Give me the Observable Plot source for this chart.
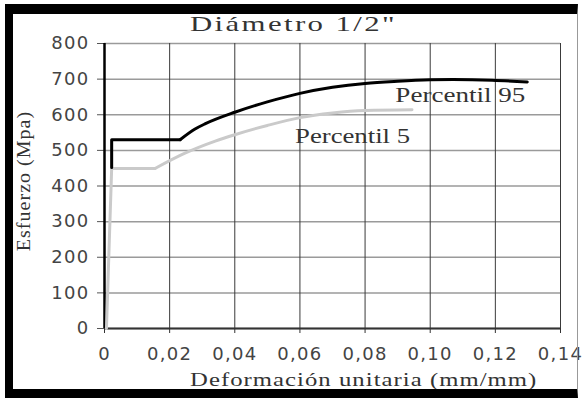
<!DOCTYPE html>
<html>
<head>
<meta charset="utf-8">
<script src="https://cdn.jsdelivr.net/npm/d3@7"></script>
<script src="https://cdn.jsdelivr.net/npm/@observablehq/plot@0.6"></script>
<style>
  body { margin: 0; background: #fff; }
  #wrap { position: relative; width: 582px; height: 398px; overflow: hidden; background: #fff; }
  #chart { position: absolute; left: 0; top: 0; }
  .lbl { position: absolute; font-family: "Liberation Serif", serif; color: #333; white-space: nowrap; }
  #title { left: 190px; top: 11px; font-size: 22px; letter-spacing: 1.7px; transform: scaleX(1.4); transform-origin: 0 0; }
  #xlabel { left: 190px; top: 369px; font-size: 19px; letter-spacing: 0.8px; transform: scaleX(1.3); transform-origin: 0 0; }
  #ylabel { left: 24px; top: 181px; font-size: 19px; letter-spacing: 1px; transform: translate(-50%, -50%) rotate(-90deg) scaleX(1.05); }
  #frame { position: absolute; left: 5px; top: 4px; width: 573px; height: 394px; box-sizing: border-box;
           border-left: 8px solid #000; border-top: 10px solid #000; border-bottom: 9px solid #000; border-right: 1px solid #999; pointer-events: none; }
  #chart g[aria-label="y-axis tick label"], #chart g[aria-label="x-axis tick label"] { letter-spacing: 1.3px; }
</style>
</head>
<body>
<div id="wrap">
  <div id="chart"></div>
  <div class="lbl" id="title">Diámetro 1/2"</div>
  <div class="lbl" id="xlabel">Deformación unitaria (mm/mm)</div>
  <div class="lbl" id="ylabel">Esfuerzo (Mpa)</div>
  <div id="frame"></div>
</div>
<script>
// Percentil 95 (black)
const strainP95 = [0.0022, 0.0022, 0.0232, 0.0278, 0.031, 0.040, 0.050, 0.060, 0.070, 0.080, 0.090, 0.100, 0.107, 0.119, 0.1298];
const stressP95 = [452, 530, 530, 560, 575, 607, 636, 660, 677, 688, 694, 698, 699, 697, 692];
const plateauEndP95 = 2; // index where the hardening curve begins

// Percentil 5 (light gray)
const strainP5 = [0.0006, 0.0022, 0.0155, 0.0247, 0.034, 0.040, 0.050, 0.060, 0.070, 0.080, 0.0944];
const stressP5 = [0, 449, 449, 492, 526, 544, 570, 592, 605, 612, 614];
const plateauEndP5 = 2;

const xTicks = [0, 0.02, 0.04, 0.06, 0.08, 0.10, 0.12, 0.14];
const yTicks = [0, 100, 200, 300, 400, 500, 600, 700, 800];

const seriesLabels = [
  {name: "Percentil 95", x: 0.0893, y: 654},
  {name: "Percentil 5", x: 0.0585, y: 539}
];
const labelWidths = [130, 115]; // rendered widths (style)

const toRows = (xs, ys) => xs.map((x, i) => ({x, y: ys[i]}));
const p95 = toRows(strainP95, stressP95);
const p5 = toRows(strainP5, stressP5);

const fmtX = d => d === 0 ? "0" : d.toFixed(2).replace(".", ",");

const chart = Plot.plot({
  width: 582,
  height: 398,
  marginLeft: 104,
  marginRight: 22,
  marginTop: 43,
  marginBottom: 70,
  style: {background: "transparent", overflow: "visible"},
  x: {domain: [0, 0.14]},
  y: {domain: [0, 800]},
  marks: [
    Plot.gridY(yTicks, {stroke: "#9a9a9a", strokeOpacity: 1, strokeWidth: 1.5}),
    Plot.gridX(xTicks, {stroke: "#3a3a3a", strokeOpacity: 1, strokeWidth: 1}),
    Plot.axisY(yTicks, {tickSize: 7, tickPadding: 8, stroke: "#555", label: null,
      fontFamily: "DejaVu Sans", fontSize: 18, fill: "#444"}),
    Plot.axisX(xTicks, {tickSize: 5, tickPadding: 14, stroke: "#333", label: null, tickFormat: fmtX,
      fontFamily: "DejaVu Sans", fontSize: 18, fill: "#444"}),
    Plot.ruleY([0], {stroke: "#333", strokeWidth: 2}),
    Plot.ruleX([0], {stroke: "#000", strokeWidth: 2.5}),
    // Percentil 5
    Plot.line(p5.slice(0, plateauEndP5 + 1), {x: "x", y: "y", stroke: "#cacaca", strokeWidth: 3}),
    Plot.line(p5.slice(plateauEndP5), {x: "x", y: "y", stroke: "#cacaca", strokeWidth: 3, curve: "monotone-x"}),
    // Percentil 95
    Plot.line(p95.slice(0, plateauEndP95 + 1), {x: "x", y: "y", stroke: "#000", strokeWidth: 3}),
    Plot.line(p95.slice(plateauEndP95), {x: "x", y: "y", stroke: "#000", strokeWidth: 3, curve: "monotone-x"}),
    Plot.text(seriesLabels, {x: "x", y: "y", text: "name", textAnchor: "start",
      fontFamily: "Liberation Serif", fontSize: 20, fill: "#333"})
  ]
});
d3.select(chart).selectAll('g[aria-label="text"] text')
  .attr("textLength", (d, i) => labelWidths[i])
  .attr("lengthAdjust", "spacingAndGlyphs");
document.getElementById("chart").appendChild(chart);
</script>
</body>
</html>
